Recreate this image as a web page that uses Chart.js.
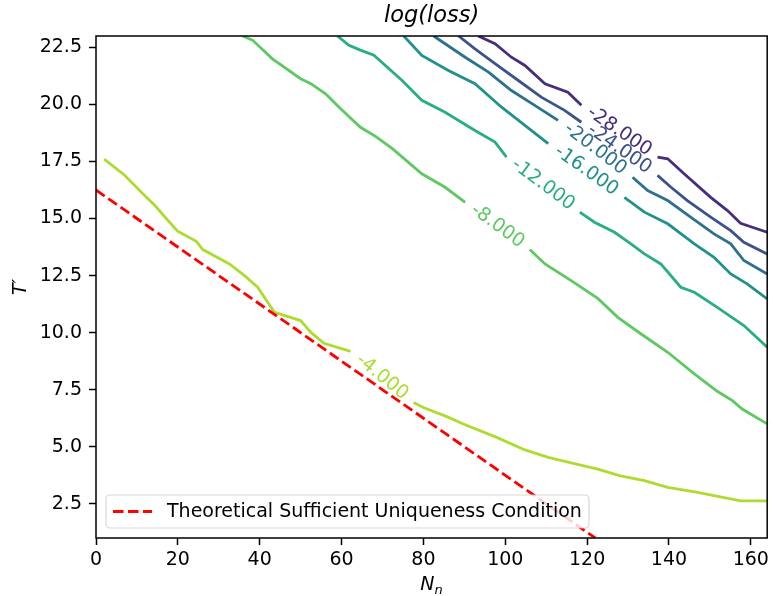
<!DOCTYPE html>
<html><head><meta charset="utf-8">
<script src="https://cdn.jsdelivr.net/npm/chart.js@4.4.1/dist/chart.umd.min.js"></script>
<style>html,body{margin:0;padding:0;background:#fff;} canvas{display:block;}</style>
</head><body>
<canvas id="c" width="773" height="596"></canvas>
<script>
// ---- data ----
const xTicks = [0, 20, 40, 60, 80, 100, 120, 140, 160];
const yTicks = [2.5, 5, 7.5, 10, 12.5, 15, 17.5, 20, 22.5];
const levels = [-4, -8, -12, -16, -20, -24, -28];

// contour lines (N_n, T'); null T marks the gap where the inline label sits
const m4N  = [2,7,11.5,14.4,17.2,20,24.5,26.1,32.6,36.3,39.5,43.6,50,52.5,55.7,62.2,70,77.6,80,85.7,90.2,97.9,104.8,110.5,116.1,122.6,127.9,134,139.7,147,157.5,164];
const m4T  = [17.6,16.9,16.08,15.57,14.99,14.44,14.0,13.64,13.01,12.5,11.99,10.89,10.53,10.01,9.53,9.18,null,6.94,6.72,6.32,5.96,5.41,4.86,4.53,4.29,4.02,3.73,3.51,3.22,3.0,2.63,2.63];
const m8N  = [35.8,38.3,43.1,50,52.5,56.1,59.4,64.6,68.3,72.5,79.6,85.3,90.2,98,106,109.7,116.1,122.6,127.5,133.2,139.7,146.2,151.8,155.5,157.9,164];
const m8T  = [23.0,22.81,22.0,21.13,20.91,20.47,19.88,19.0,18.6,18.05,16.96,16.37,15.71,null,13.64,13.01,12.28,11.5,10.67,9.94,9.14,8.19,7.43,7.02,6.65,6.0];
const m12N = [59,61.8,64.6,67.9,74.8,79.6,85.3,92.6,97.5,100.3,109,118.2,121.8,126.7,130.7,134,138,142.9,146.2,151.8,158.3,164];
const m12T = [23.0,22.59,22.38,22.16,21.05,20.18,19.66,18.86,18.35,17.69,null,15.28,14.84,14.4,13.89,13.45,13.01,11.99,11.77,11.11,10.31,9.36];
const m16N = [75.2,79.6,86.1,92.6,99.1,104.8,110.5,120,129.1,134,139.7,146.2,151,155.1,159.1,164];
const m16T = [23.0,22.15,21.49,20.91,19.88,19.08,18.28,null,15.93,15.28,14.77,13.89,13.3,12.57,12.14,11.48];
const m20N = [82.5,85.3,90.2,95.9,101.5,107.2,112.9,122,131.1,134.8,139.7,145.3,151,155.1,158.3,164];
const m20T = [23.0,22.66,22.07,21.42,20.61,19.96,19.3,null,16.81,16.23,15.79,15.06,14.33,13.89,13.16,12.57];
const m24N = [88.6,92.6,97.5,103.2,108.8,114.5,118.6,128,137.2,140.5,144.5,150.2,155.1,158.3,164];
const m24T = [23.0,22.44,21.79,21.05,20.32,19.74,19.22,null,16.89,16.37,15.79,15.06,14.47,13.96,13.45];
const m28N = [93.4,97.5,101.5,104.8,109.7,115.3,118.6,128,137.2,139.7,143.7,150.2,154.3,157.5,164];
const m28T = [23.0,22.66,22.07,21.71,20.91,20.54,19.96,null,17.69,17.62,16.96,15.93,15.35,14.79,14.4];

// theoretical sufficient uniqueness condition
const condN = [0, 122];
const condT = [16.25, 1];
const legendLabel = 'Theoretical Sufficient Uniqueness Condition';

// ---- styles ----
const levelColors = ['#addc30', '#5ec962', '#28ae80', '#21918c', '#2c728e', '#3b528b', '#472d7b'];
const FONT = '"DejaVu Sans", "Liberation Sans", sans-serif';
const FS = 19;
const LW = 2.8;
const DASH = [10.5, 4.5];

const contourN = [m4N, m8N, m12N, m16N, m20N, m24N, m28N];
const contourT = [m4T, m8T, m12T, m16T, m20T, m24T, m28T];
const zip = (a, b) => a.map((v, i) => ({x: v, y: b[i]}));

const datasets = [{
  label: legendLabel,
  data: zip(condN, condT),
  borderColor: '#ff0000',
  borderWidth: LW,
  borderDash: DASH,
  pointRadius: 0,
  fill: false
}];
levels.forEach((lv, i) => {
  datasets.push({
    label: lv.toFixed(3),
    data: zip(contourN[i], contourT[i]),
    borderColor: levelColors[i],
    borderWidth: LW,
    pointRadius: 0,
    spanGaps: false,
    fill: false,
    tension: 0
  });
});

const decor = {
  id: 'decor',
  afterDatasetsDraw(chart) {
    const ctx = chart.ctx, xs = chart.scales.x, ys = chart.scales.y, a = chart.chartArea;
    // contour labels
    levels.forEach((lv, i) => {
      const N = contourN[i], T = contourT[i];
      const k = T.indexOf(null);
      const x1 = xs.getPixelForValue(N[k-1]), y1 = ys.getPixelForValue(T[k-1]);
      const x2 = xs.getPixelForValue(N[k+1]), y2 = ys.getPixelForValue(T[k+1]);
      const ang = Math.atan2(y2 - y1, x2 - x1);
      ctx.save();
      ctx.translate((x1 + x2) / 2, (y1 + y2) / 2);
      ctx.rotate(ang);
      ctx.font = FS + 'px ' + FONT;
      ctx.fillStyle = levelColors[i];
      ctx.textAlign = 'center';
      ctx.textBaseline = 'middle';
      ctx.fillText(lv.toFixed(3), 0, 0);
      ctx.restore();
    });
    // frame
    ctx.save();
    ctx.strokeStyle = '#000';
    ctx.lineWidth = 1.5;
    ctx.strokeRect(a.left, a.top, a.right - a.left, a.bottom - a.top);
    ctx.restore();
    // legend
    const lx = a.left + 10, ly = a.bottom - 43, lw = 483, lh = 33, r = 4;
    ctx.save();
    ctx.beginPath();
    ctx.moveTo(lx + r, ly);
    ctx.arcTo(lx + lw, ly, lx + lw, ly + lh, r);
    ctx.arcTo(lx + lw, ly + lh, lx, ly + lh, r);
    ctx.arcTo(lx, ly + lh, lx, ly, r);
    ctx.arcTo(lx, ly, lx + lw, ly, r);
    ctx.closePath();
    ctx.fillStyle = 'rgba(255,255,255,0.8)';
    ctx.fill();
    ctx.strokeStyle = 'rgba(204,204,204,0.8)';
    ctx.lineWidth = 1.2;
    ctx.stroke();
    const cy = ly + lh / 2;
    ctx.beginPath();
    ctx.setLineDash(DASH);
    ctx.strokeStyle = '#ff0000';
    ctx.lineWidth = LW;
    ctx.moveTo(lx + 7, cy);
    ctx.lineTo(lx + 46, cy);
    ctx.stroke();
    ctx.setLineDash([]);
    ctx.fillStyle = '#000';
    ctx.font = FS + 'px ' + FONT;
    ctx.textAlign = 'left';
    ctx.textBaseline = 'middle';
    ctx.fillText(legendLabel, lx + 61, cy + 1);
    ctx.restore();
  },
  afterDraw(chart) {
    const ctx = chart.ctx, a = chart.chartArea;
    ctx.save();
    ctx.fillStyle = '#000';
    // title
    ctx.font = 'italic 22.5px ' + FONT;
    ctx.textAlign = 'center';
    ctx.textBaseline = 'middle';
    ctx.fillText('log(loss)', (a.left + a.right) / 2, 16);
    // y label
    ctx.save();
    ctx.translate(21, (a.top + a.bottom) / 2);
    ctx.rotate(-Math.PI / 2);
    ctx.font = 'italic ' + FS + 'px ' + FONT;
    ctx.fillText('T\u2032', 0, 0);
    ctx.restore();
    // x label N_n
    const cx = (a.left + a.right) / 2;
    ctx.font = 'italic ' + FS + 'px ' + FONT;
    const wN = ctx.measureText('N').width;
    ctx.font = 'italic 13px ' + FONT;
    const wn = ctx.measureText('n').width;
    const x0 = cx - (wN + wn) / 2;
    ctx.textAlign = 'left';
    ctx.textBaseline = 'alphabetic';
    ctx.font = 'italic ' + FS + 'px ' + FONT;
    ctx.fillText('N', x0, 590);
    ctx.font = 'italic 13px ' + FONT;
    ctx.fillText('n', x0 + wN, 594);
    ctx.restore();
  }
};

const tickFont = {family: FONT, size: FS};
new Chart(document.getElementById('c'), {
  type: 'line',
  data: {datasets},
  plugins: [decor],
  options: {
    responsive: false,
    devicePixelRatio: 1,
    animation: false,
    layout: {padding: {left: 0, right: 2, top: 36, bottom: 0}},
    plugins: {legend: {display: false}, tooltip: {enabled: false}, title: {display: false}},
    scales: {
      x: {
        type: 'linear', min: 0, max: 164,
        afterBuildTicks: s => { s.ticks = xTicks.map(v => ({value: v})); },
        afterFit: s => { s.height = 58; },
        ticks: {font: tickFont, color: '#000', padding: 4, maxRotation: 0, autoSkip: false, callback: v => String(v)},
        grid: {drawOnChartArea: false, drawTicks: true, tickLength: 7, tickWidth: 1.5, tickColor: '#000'},
        border: {display: false}
      },
      y: {
        type: 'linear', min: 1, max: 23,
        afterBuildTicks: s => { s.ticks = yTicks.map(v => ({value: v})); },
        afterFit: s => { s.width = 96; },
        ticks: {font: tickFont, color: '#000', padding: 7, autoSkip: false, callback: v => v.toFixed(1)},
        grid: {drawOnChartArea: false, drawTicks: true, tickLength: 7, tickWidth: 1.5, tickColor: '#000'},
        border: {display: false}
      }
    }
  }
});
</script>
</body></html>
